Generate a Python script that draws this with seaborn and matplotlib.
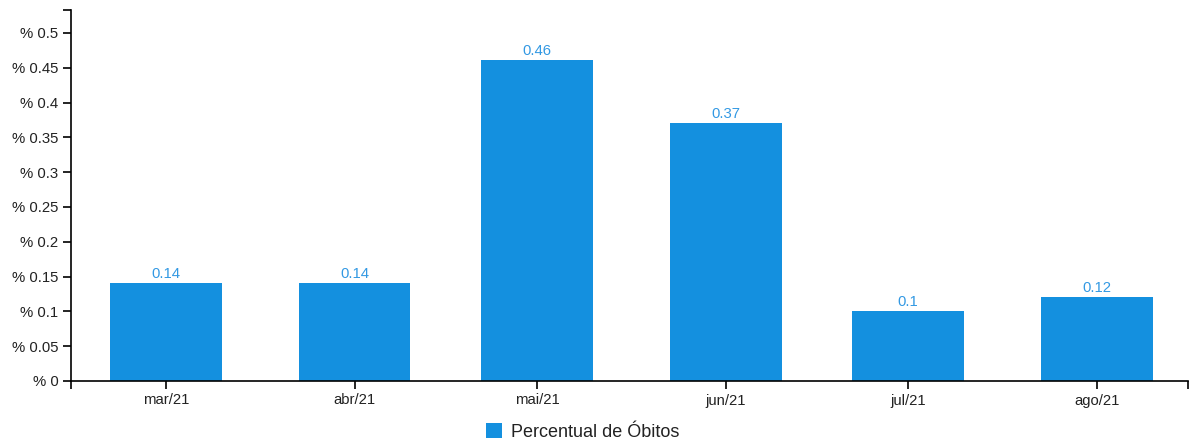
import matplotlib
matplotlib.use("Agg")
import matplotlib.pyplot as plt
import matplotlib.dates as mdates
import seaborn as sns
import pandas as pd
import numpy as np

months = ["2021-03-01", "2021-04-01", "2021-05-01", "2021-06-01", "2021-07-01", "2021-08-01"]
month_labels = ["mar/21", "abr/21", "mai/21", "jun/21", "jul/21", "ago/21"]
values = [0.141, 0.141, 0.461, 0.371, 0.101, 0.121]
series_name = "Percentual de Óbitos"
y_ticks = [0, 0.05, 0.1, 0.15, 0.2, 0.25, 0.3, 0.35, 0.4, 0.45, 0.5]

sns.set_theme(style="white")
plt.rcParams['font.family'] = ['Liberation Sans', 'DejaVu Sans']

bar_color = "#1490DF"
label_color = "#3399E3"

x_num = mdates.date2num(pd.to_datetime(months))
df = pd.DataFrame({"x": x_num, "y": values})

fig = plt.figure(figsize=(11.91, 4.45), dpi=100)
ax = fig.add_axes([71 / 1191, 64 / 445, (1188 - 71) / 1191, (381 - 10) / 445])

sns.barplot(data=df, x="x", y="y", native_scale=True, width=0.613,
            color=bar_color, saturation=1, ax=ax, label=series_name, errorbar=None,
            linewidth=0, edgecolor=bar_color)

xmin = x_num[0] - 15.6
xmax = x_num[-1] + 15.0
ymax = (381 - 10) / 696 * 1.0
ax.set_xlim(xmin, xmax)
ax.set_ylim(0, ymax)

for xv, yv in zip(x_num, values):
    ax.text(xv, yv + 0.003, f"{round(yv, 2):g}", ha="center", va="bottom",
            color=label_color, fontsize=10.7)

ax.set_xticks(list(x_num) + [xmin, xmax])
ax.set_xticklabels(month_labels + ["", ""])
ax.set_yticks(y_ticks + [ymax])
ax.set_yticklabels([f"% {v:g}" for v in y_ticks] + [""])
ax.tick_params(axis="both", which="both", length=6, width=1.2, color="black",
               labelsize=10.7, labelcolor="#222222", pad=3, direction="out")
ax.tick_params(axis="x", bottom=True)
ax.tick_params(axis="y", left=True)
ax.set_xlabel("")
ax.set_ylabel("")

for s in ["top", "right"]:
    ax.spines[s].set_visible(False)
for s in ["left", "bottom"]:
    ax.spines[s].set_color("black")
    ax.spines[s].set_linewidth(1.2)

if ax.get_legend() is not None:
    ax.get_legend().remove()
handles, labels = ax.get_legend_handles_labels()
fig.legend(handles[:1], labels[:1], loc="center", bbox_to_anchor=(583 / 1191, 1 - 432 / 445),
           frameon=False, fontsize=13, handlelength=0.9, handleheight=0.9,
           handletextpad=0.5, labelcolor="#222222")

fig.savefig("out.png", dpi=100)
